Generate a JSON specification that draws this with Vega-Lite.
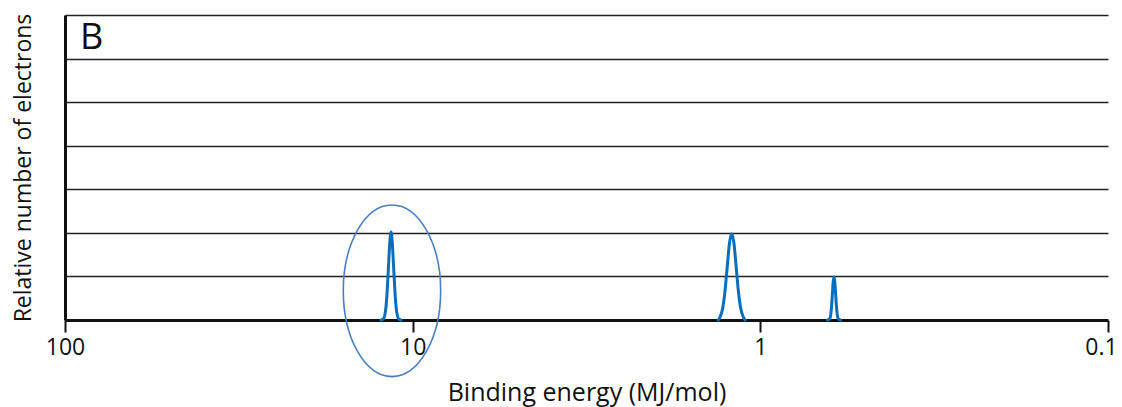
{
  "$schema": "https://vega.github.io/schema/vega-lite/v6.json",
  "width": 1043,
  "height": 305,
  "autosize": {"type": "none"},
  "padding": {"left": 65, "top": 15, "right": 14, "bottom": 87},
  "background": "white",
  "config": {
    "view": {"stroke": null},
    "font": "Open Sans"
  },
  "datasets": {
    "peaks": [
      {"peak": "1s", "energy": 12.33, "n": 0},
      {"peak": "1s", "energy": 12.15, "n": 0.02},
      {"peak": "1s", "energy": 11.944, "n": 0.27},
      {"peak": "1s", "energy": 11.842, "n": 0.65},
      {"peak": "1s", "energy": 11.74, "n": 1.21},
      {"peak": "1s", "energy": 11.64, "n": 1.76},
      {"peak": "1s", "energy": 11.54, "n": 2.02},
      {"peak": "1s", "energy": 11.441, "n": 1.76},
      {"peak": "1s", "energy": 11.343, "n": 1.21},
      {"peak": "1s", "energy": 11.245, "n": 0.65},
      {"peak": "1s", "energy": 11.15, "n": 0.27},
      {"peak": "1s", "energy": 10.959, "n": 0.02},
      {"peak": "1s", "energy": 10.8, "n": 0},
      {"peak": "2s", "energy": 1.3219, "n": 0},
      {"peak": "2s", "energy": 1.3088, "n": 0.05},
      {"peak": "2s", "energy": 1.2831, "n": 0.27},
      {"peak": "2s", "energy": 1.2642, "n": 0.65},
      {"peak": "2s", "energy": 1.2455, "n": 1.21},
      {"peak": "2s", "energy": 1.227, "n": 1.76},
      {"peak": "2s", "energy": 1.2089, "n": 1.98},
      {"peak": "2s", "energy": 1.191, "n": 1.76},
      {"peak": "2s", "energy": 1.1733, "n": 1.21},
      {"peak": "2s", "energy": 1.1561, "n": 0.65},
      {"peak": "2s", "energy": 1.139, "n": 0.27},
      {"peak": "2s", "energy": 1.1167, "n": 0.05},
      {"peak": "2s", "energy": 1.1055, "n": 0},
      {"peak": "2p", "energy": 0.6409, "n": 0},
      {"peak": "2p", "energy": 0.6316, "n": 0.027},
      {"peak": "2p", "energy": 0.6271, "n": 0.135},
      {"peak": "2p", "energy": 0.6237, "n": 0.325},
      {"peak": "2p", "energy": 0.6204, "n": 0.607},
      {"peak": "2p", "energy": 0.6172, "n": 0.882},
      {"peak": "2p", "energy": 0.6139, "n": 0.98},
      {"peak": "2p", "energy": 0.6107, "n": 0.882},
      {"peak": "2p", "energy": 0.6074, "n": 0.607},
      {"peak": "2p", "energy": 0.6042, "n": 0.325},
      {"peak": "2p", "energy": 0.601, "n": 0.135},
      {"peak": "2p", "energy": 0.5967, "n": 0.027},
      {"peak": "2p", "energy": 0.588, "n": 0}
    ],
    "ellipse": [{"energy": 11.469, "n": 0.67}],
    "label": [{"energy": 90.5, "n": 6.22, "text": "B"}]
  },
  "encoding": {
    "x": {
      "field": "energy",
      "type": "quantitative",
      "scale": {"type": "log", "domain": [100, 0.1], "nice": false},
      "axis": {
        "title": "Binding energy (MJ/mol)",
        "values": [100, 10, 1, 0.1],
        "format": "~g",
        "grid": false,
        "domainColor": "#111",
        "domainWidth": 3,
        "tickColor": "#111",
        "tickWidth": 2,
        "tickSize": 12,
        "labelFontSize": 23,
        "labelColor": "#111",
        "labelPadding": 4,
        "labelFlush": false,
        "labelOffset": {"condition": {"test": "datum.value < 0.5", "value": -7}, "value": 0},
        "titleFontSize": 25,
        "titleFontWeight": "normal",
        "titleColor": "#111",
        "titlePadding": 21
      }
    },
    "y": {
      "field": "n",
      "type": "quantitative",
      "scale": {"domain": [0, 7], "nice": false},
      "axis": {
        "title": "Relative number of electrons",
        "values": [1, 2, 3, 4, 5, 6, 7],
        "labels": false,
        "ticks": false,
        "grid": true,
        "gridColor": "#222",
        "gridWidth": 1.5,
        "gridOpacity": 1,
        "domainColor": "#111",
        "domainWidth": 3,
        "titleFontSize": 23,
        "titleFontWeight": "normal",
        "titleColor": "#111",
        "titlePadding": 30
      }
    }
  },
  "layer": [
    {
      "data": {"name": "peaks"},
      "mark": {"type": "line", "color": "#0a6ebd", "strokeWidth": 3, "interpolate": "monotone", "strokeCap": "round", "strokeJoin": "round", "clip": false},
      "encoding": {"detail": {"field": "peak"}}
    },
    {
      "data": {"name": "ellipse"},
      "mark": {
        "type": "point",
        "shape": "M -0.5676 0 A 0.5676 1 0 1 1 0.5676 0 A 0.5676 1 0 1 1 -0.5676 0 Z",
        "size": 29447,
        "filled": false,
        "stroke": "#4a7fc4",
        "strokeWidth": 1.6,
        "opacity": 1,
        "clip": false
      }
    },
    {
      "data": {"name": "label"},
      "mark": {"type": "text", "align": "left", "baseline": "alphabetic", "fontSize": 36, "color": "#111", "font": "Open Sans"},
      "encoding": {"text": {"field": "text"}}
    }
  ]
}
